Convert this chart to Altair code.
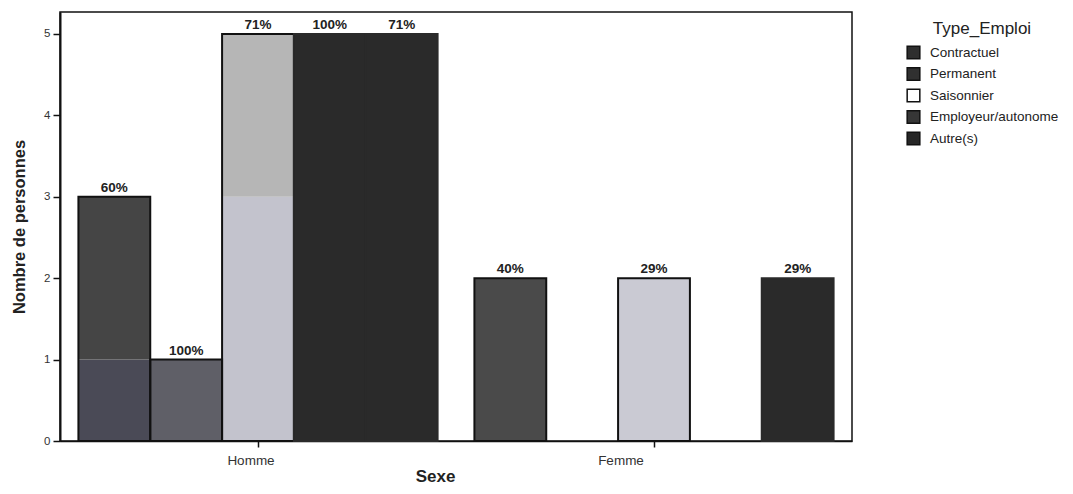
import altair as alt
import pandas as pd

# ---- data ----
type_order = ["Contractuel", "Permanent", "Saisonnier", "Employeur/autonome", "Autre(s)"]
sexe_order = ["Homme", "Femme"]

# stacked segments inside each bar
seg_sexe = ["Homme", "Homme", "Homme", "Homme", "Homme", "Homme", "Homme", "Femme", "Femme", "Femme"]
seg_type = ["Contractuel", "Contractuel", "Permanent", "Saisonnier", "Saisonnier",
            "Employeur/autonome", "Autre(s)", "Contractuel", "Saisonnier", "Autre(s)"]
seg_index = [0, 1, 0, 0, 1, 0, 0, 0, 0, 0]
seg_count = [1, 2, 1, 3, 2, 5, 5, 2, 2, 2]
seg_shade = ["#4a4a56", "#454545", "#5f5f67", "#c3c3cd", "#b6b6b6",
             "#2a2a2a", "#2a2a2a", "#4a4a4a", "#cacad3", "#2a2a2a"]

# bar totals and percent labels
bar_sexe = ["Homme", "Homme", "Homme", "Homme", "Homme", "Femme", "Femme", "Femme"]
bar_type = ["Contractuel", "Permanent", "Saisonnier", "Employeur/autonome", "Autre(s)",
            "Contractuel", "Saisonnier", "Autre(s)"]
bar_total = [3, 1, 5, 5, 5, 2, 2, 2]
bar_pct = ["60%", "100%", "71%", "100%", "71%", "40%", "29%", "29%"]
bar_edge = ["#111111", "#111111", "#111111", "#2a2a2a", "#2a2a2a", "#111111", "#111111", "#2a2a2a"]

legend_colors = ["#2e2e2e", "#303030", "#ffffff", "#363636", "#262626"]

seg_df = pd.DataFrame({"Sexe": seg_sexe, "Type": seg_type, "seg": seg_index,
                       "n": seg_count, "shade": seg_shade})
bar_df = pd.DataFrame({"Sexe": bar_sexe, "Type": bar_type, "total": bar_total,
                       "pct": bar_pct, "edge": bar_edge})
leg_df = pd.DataFrame({"Type": type_order})

FONT = "Liberation Sans"

x_enc = alt.X("Sexe:N", sort=sexe_order,
              scale=alt.Scale(domain=sexe_order, paddingInner=0.093, paddingOuter=0.0465, align=0.5),
              axis=alt.Axis(title="Sexe", labelAngle=0, labelFontSize=13.5, labelColor="#333333",
                            labelPadding=6, tickSize=6, tickColor="#111111", tickWidth=1.5,
                            domainColor="#111111", domainWidth=1.5,
                            labelOffset={"condition": {"test": "datum.value === 'Homme'", "value": -7},
                                         "value": -33},
                            titleFontSize=17, titleFontWeight="bold", titleColor="#222222",
                            titlePadding=2, titleX=375))
xo_enc = alt.XOffset("Type:N", sort=type_order,
                     scale=alt.Scale(domain=type_order, paddingInner=0, paddingOuter=0))
y_scale = alt.Scale(domain=[0, 5.27], nice=False, zero=True)
y_axis = alt.Axis(title="Nombre de personnes", values=[0, 1, 2, 3, 4, 5], format="d", grid=False,
                  labelFontSize=11.5, labelColor="#333333", tickSize=7, tickColor="#111111",
                  tickWidth=1.5, domainColor="#111111", domainWidth=2, labelPadding=3,
                  titleFontSize=16.5, titleFontWeight="bold", titleColor="#222222", titlePadding=16)

segments = alt.Chart(seg_df).mark_bar(strokeWidth=0).encode(
    x=x_enc,
    xOffset=xo_enc,
    y=alt.Y("sum(n):Q", scale=y_scale, axis=y_axis, stack="zero"),
    fill=alt.Fill("shade:N", scale=None),
    detail="seg:O",
    order=alt.Order("seg:O", sort="ascending"),
)

outlines = alt.Chart(bar_df).mark_bar(fillOpacity=0, strokeWidth=2).encode(
    x=alt.X("Sexe:N", sort=sexe_order),
    xOffset=alt.XOffset("Type:N", sort=type_order),
    y=alt.Y("total:Q"),
    stroke=alt.Stroke("edge:N", scale=None),
)

labels = alt.Chart(bar_df).mark_text(baseline="bottom", dy=-2, fontSize=13.5, fontWeight="bold",
                                     font=FONT, color="#222222").encode(
    x=alt.X("Sexe:N", sort=sexe_order),
    xOffset=alt.XOffset("Type:N", sort=type_order),
    y=alt.Y("total:Q"),
    text="pct:N",
)

legend_layer = alt.Chart(leg_df).mark_square(opacity=0, size=10).encode(
    x=alt.value(0), y=alt.value(0),
    color=alt.Color("Type:N", sort=type_order,
                    scale=alt.Scale(domain=type_order, range=legend_colors),
                    legend=alt.Legend(title="Type_Emploi", orient="none", legendX=846, legendY=9,
                                      titleAnchor="middle", titleFontSize=17, titleFontWeight="normal",
                                      titleColor="#222222", titlePadding=7,
                                      labelFontSize=13.5, labelColor="#222222", labelOffset=9,
                                      symbolType="square", symbolSize=160, symbolOpacity=1,
                                      symbolStrokeColor="#111111", symbolStrokeWidth=1.5,
                                      rowPadding=2.5, padding=0)),
)

chart = alt.layer(segments, outlines, labels, legend_layer).properties(
    width=792, height=429,
    autosize=alt.AutoSizeParams(type="none"),
    padding={"left": 52, "top": 4, "right": 213, "bottom": 45},
).configure(font=FONT).configure_view(stroke="#111111", strokeWidth=1.5)

chart.save("out.html", embed_options={"renderer": "svg", "actions": False})
